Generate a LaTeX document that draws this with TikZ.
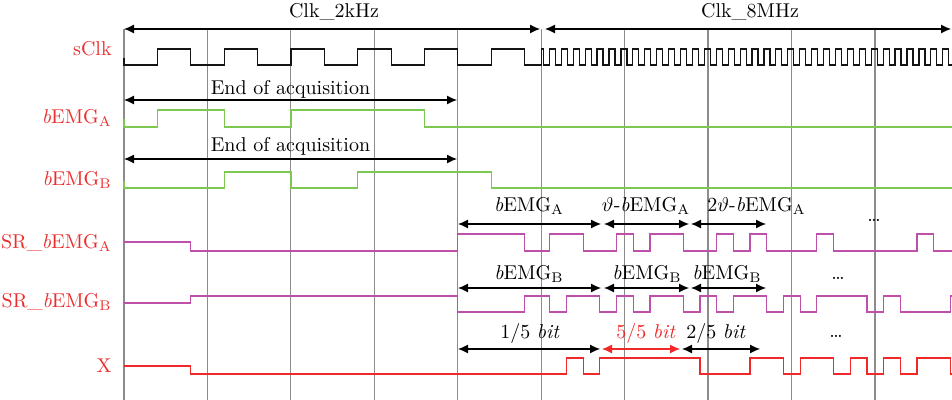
\documentclass[tikz,border=0pt]{standalone}
\usepackage{tikz}
\usetikzlibrary{arrows.meta}
\definecolor{lblred}{RGB}{235,45,45}
\definecolor{sigblack}{RGB}{20,20,20}
\definecolor{siggreen}{RGB}{125,200,80}
\definecolor{sigpink}{RGB}{190,80,170}
\definecolor{sigred}{RGB}{240,40,40}
\definecolor{gridgray}{RGB}{140,140,140}

\begin{document}
\begin{tikzpicture}[x=0.5pt,y=-0.5pt,
  gridline/.style={draw=gridgray,line width=0.6pt},
  sig/.style={line width=0.6pt},
  signame/.style={text=lblred,anchor=base east,inner sep=0pt},
  lab/.style={anchor=base,inner sep=0pt},
  arr/.style={{Latex[length=5pt,width=4.5pt]}-{Latex[length=5pt,width=4.5pt]},
    line width=0.6pt}
]
\useasboundingbox (0,0) rectangle (952,400);
% time grid
\foreach \i in {0,...,9}
  \draw[gridline] ({124+83.44*\i},29) -- ({124+83.44*\i},400);

% signal names
\node[signame] (nclk) at (112,56) {sClk};
\node[signame] (nea) at (112,124) {\textit{b}EMG$_\mathrm{A}$};
\node[signame] (neb) at (112,186) {\textit{b}EMG$_\mathrm{B}$};
\node[signame] (nsra) at (112,249) {SR\_\textit{b}EMG$_\mathrm{A}$};
\node[signame] (nsrb) at (112,308) {SR\_\textit{b}EMG$_\mathrm{B}$};
\node[signame] (nx) at (112,372) {X};

% clock ranges
\coordinate (c2l) at (124,29);
\coordinate (c2r) at (540,29);
\coordinate (c8l) at (545,29);
\coordinate (c8r) at (951,29);
\draw[arr] (c2l) -- (c2r);
\draw[arr] (c8l) -- (c8r);
\node[lab] (t2k) at (334,18) {Clk\_2kHz};
\node[lab] (t8m) at (750,18) {Clk\_8MHz};

% sClk
\draw[sig,sigblack] (124,58) -- (124,65) -| (157.4,49) -| (190.8,65)
  -| (224.2,49) -| (257.5,65) -| (290.9,49) -| (324.3,65) -| (357.7,49)
  -| (391.1,65) -| (424.4,49) -| (457.8,65) -| (491.2,49) -| (524.6,65)
  -| (541.2,49) -| (543.5,65)
  \foreach \i in {0,...,33}{ -| ({549.4+11.92*\i},49) -| ({555.4+11.92*\i},65) }
  -- (952,65);

% acquisition
\coordinate (e1l) at (124,100);
\coordinate (e1r) at (457,100);
\draw[arr] (e1l) -- (e1r);
\node[lab] (eoa1) at (290.5,95) {End of acquisition};
\draw[sig,siggreen] (124,119) -- (124,127) -| (157.4,110) -| (224.2,127)
  -| (290.9,110) -| (424.4,127) -- (952,127);

\coordinate (e2l) at (124,159);
\coordinate (e2r) at (457,159);
\draw[arr] (e2l) -- (e2r);
\node[lab] (eoa2) at (290.5,152) {End of acquisition};
\draw[sig,siggreen] (124,181) -- (124,188) -| (224.2,172) -| (290.9,188)
  -| (357.7,172) -| (491.2,188) -- (952,188);

% SR_bEMG_A
\coordinate (sa0) at (458,224);
\coordinate (sa1) at (601,224);
\coordinate (sa2) at (604,224);
\coordinate (sa3) at (689,224);
\coordinate (sa4) at (691,224);
\coordinate (sa5) at (766,224);
\draw[arr] (sa0) -- (sa1);
\draw[arr] (sa2) -- (sa3);
\draw[arr] (sa4) -- (sa5);
\node[lab] (la1) at (529,212) {\textit{b}EMG$_\mathrm{A}$};
\node[lab] (la2) at (646,212) {$\vartheta$-\textit{b}EMG$_\mathrm{A}$};
\node[lab,anchor=base west] (la3) at (707,212) {2$\vartheta$-\textit{b}EMG$_\mathrm{A}$};
\node[lab] (da) at (874,222) {\dots};
\draw[sig,sigpink] (124,242) -| (190.8,251) -| (457.8,234) -| (524.8,251)
  -| (549.8,234) -| (583.2,251) -| (616.5,234) -| (633.2,251) -| (649.9,234)
  -| (683.3,251) -| (716.7,234) -| (733.4,251) -| (750.0,234) -| (766.7,251)
  -| (816.8,234) -| (833.5,251) -| (916.9,234) -| (933.6,251) -- (952,251);

% SR_bEMG_B
\coordinate (sb0) at (458,288);
\coordinate (sb1) at (601,288);
\coordinate (sb2) at (604,288);
\coordinate (sb3) at (689,288);
\coordinate (sb4) at (691,288);
\coordinate (sb5) at (766,288);
\draw[arr] (sb0) -- (sb1);
\draw[arr] (sb2) -- (sb3);
\draw[arr] (sb4) -- (sb5);
\node[lab] (lb1) at (529,280) {\textit{b}EMG$_\mathrm{B}$};
\node[lab] (lb2) at (647,280) {\textit{b}EMG$_\mathrm{B}$};
\node[lab] (lb3) at (727,280) {\textit{b}EMG$_\mathrm{B}$};
\node[lab] (db) at (838,280) {\dots};
\draw[sig,sigpink] (124,303) -| (190.8,296) -| (457.8,312) -| (524.8,296)
  -| (549.8,312) -| (566.5,296) -| (599.8,312) -| (616.5,296) -| (633.2,312)
  -| (649.9,296) -| (683.3,312) -| (700.0,296) -| (716.7,312) -| (733.4,296)
  -| (766.7,312) -| (783.4,296) -| (800.1,312) -| (816.8,296) -| (866.9,312)
  -| (883.5,296) -| (900.2,312) -| (950.3,296) -- (952,296);

% X
\coordinate (x0) at (458,349);
\coordinate (x1) at (600,349);
\coordinate (x2) at (602,349);
\coordinate (x3) at (680,349);
\coordinate (x4) at (682,349);
\coordinate (x5) at (760,349);
\draw[arr] (x0) -- (x1);
\draw[arr,sigred] (x2) -- (x3);
\draw[arr] (x4) -- (x5);
\node[lab] (lx1) at (530,339) {1/5 \textit{bit}};
\node[lab,text=sigred] (lx2) at (646,339) {5/5 \textit{bit}};
\node[lab] (lx3) at (716,339) {2/5 \textit{bit}};
\node[lab] (dx) at (836,337) {\dots};
\draw[sig,sigred] (124,366) -| (190.8,374) -| (566.5,358) -| (583.2,374)
  -| (599.8,358) -| (700.0,374) -| (750.0,358) -| (783.4,374) -| (800.1,358)
  -| (833.5,374) -| (850.2,358) -| (866.9,374) -| (883.5,358) -| (900.2,374)
  -| (916.9,358) -| (950.3,374) -- (952,374);
\end{tikzpicture}
\end{document}
